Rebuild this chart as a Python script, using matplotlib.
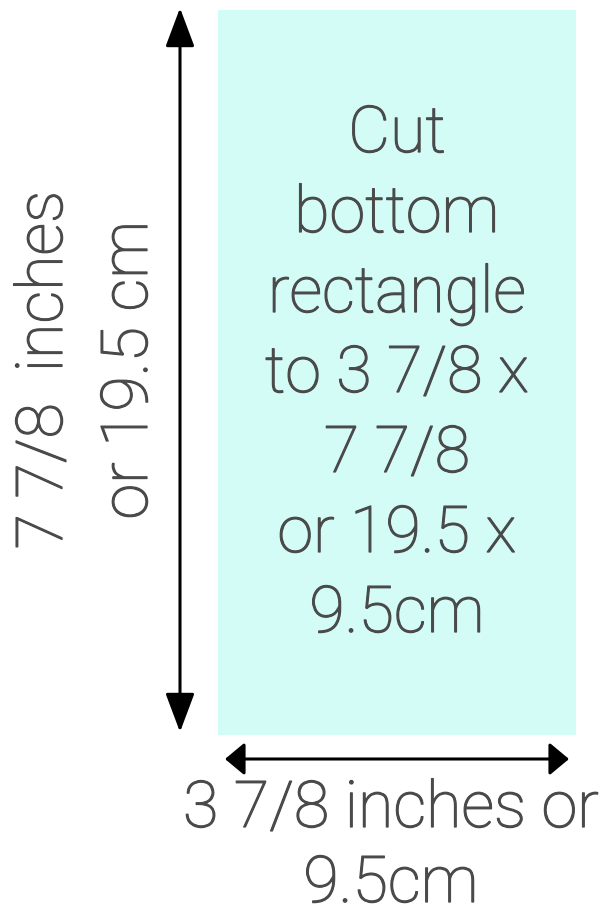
import matplotlib
matplotlib.use("Agg")
import matplotlib.pyplot as plt
import matplotlib.patheffects as pe
from matplotlib.patches import Rectangle

# texts of the diagram
centre_lines = ["Cut", "bottom", "rectangle", "to 3 7/8 x", "7 7/8", "or 19.5 x", "9.5cm"]
side_lines = ["7 7/8  inches", "or 19.5 cm"]
bottom_lines = ["3 7/8 inches or", "9.5cm"]

text_col = "#4a4a4a"
fill_col = "#d4fcf7"
# Roboto Light, thickened a little with a stroke
font = dict(family=["Roboto", "DejaVu Sans"], weight="light", size=46.5, color=text_col,
            path_effects=[pe.withStroke(linewidth=0.9, foreground=text_col)])

fig = plt.figure(figsize=(6.09, 9.17), dpi=100)
ax = fig.add_axes([0, 0, 1, 1])
ax.set_xlim(0, 609)
ax.set_ylim(917, 0)
ax.axis("off")

ax.add_patch(Rectangle((218, 10), 358, 725, facecolor=fill_col, edgecolor="none"))

# vertical arrow
ax.annotate("", xy=(180, 8), xytext=(180, 732),
            arrowprops=dict(arrowstyle="<|-|>,head_length=1.2,head_width=0.45",
                            lw=2.2, color="black", mutation_scale=20,
                            shrinkA=0, shrinkB=0))
# horizontal arrow
ax.annotate("", xy=(225, 759), xytext=(569, 759),
            arrowprops=dict(arrowstyle="<|-|>,head_length=0.6,head_width=0.5",
                            lw=2.2, color="black", mutation_scale=20,
                            shrinkA=0, shrinkB=0))

for i, s in enumerate(centre_lines):
    ax.text(397, 152 + i * 80, s, ha="center", va="baseline", **font)

for i, s in enumerate(side_lines):
    ax.text(62 + i * 85, 370, s, ha="center", va="baseline", rotation=90,
            rotation_mode="anchor", **font)

for i, s in enumerate(bottom_lines):
    ax.text(391, 827 + i * 75, s, ha="center", va="baseline", **font)

fig.savefig("out.png", dpi=100)
